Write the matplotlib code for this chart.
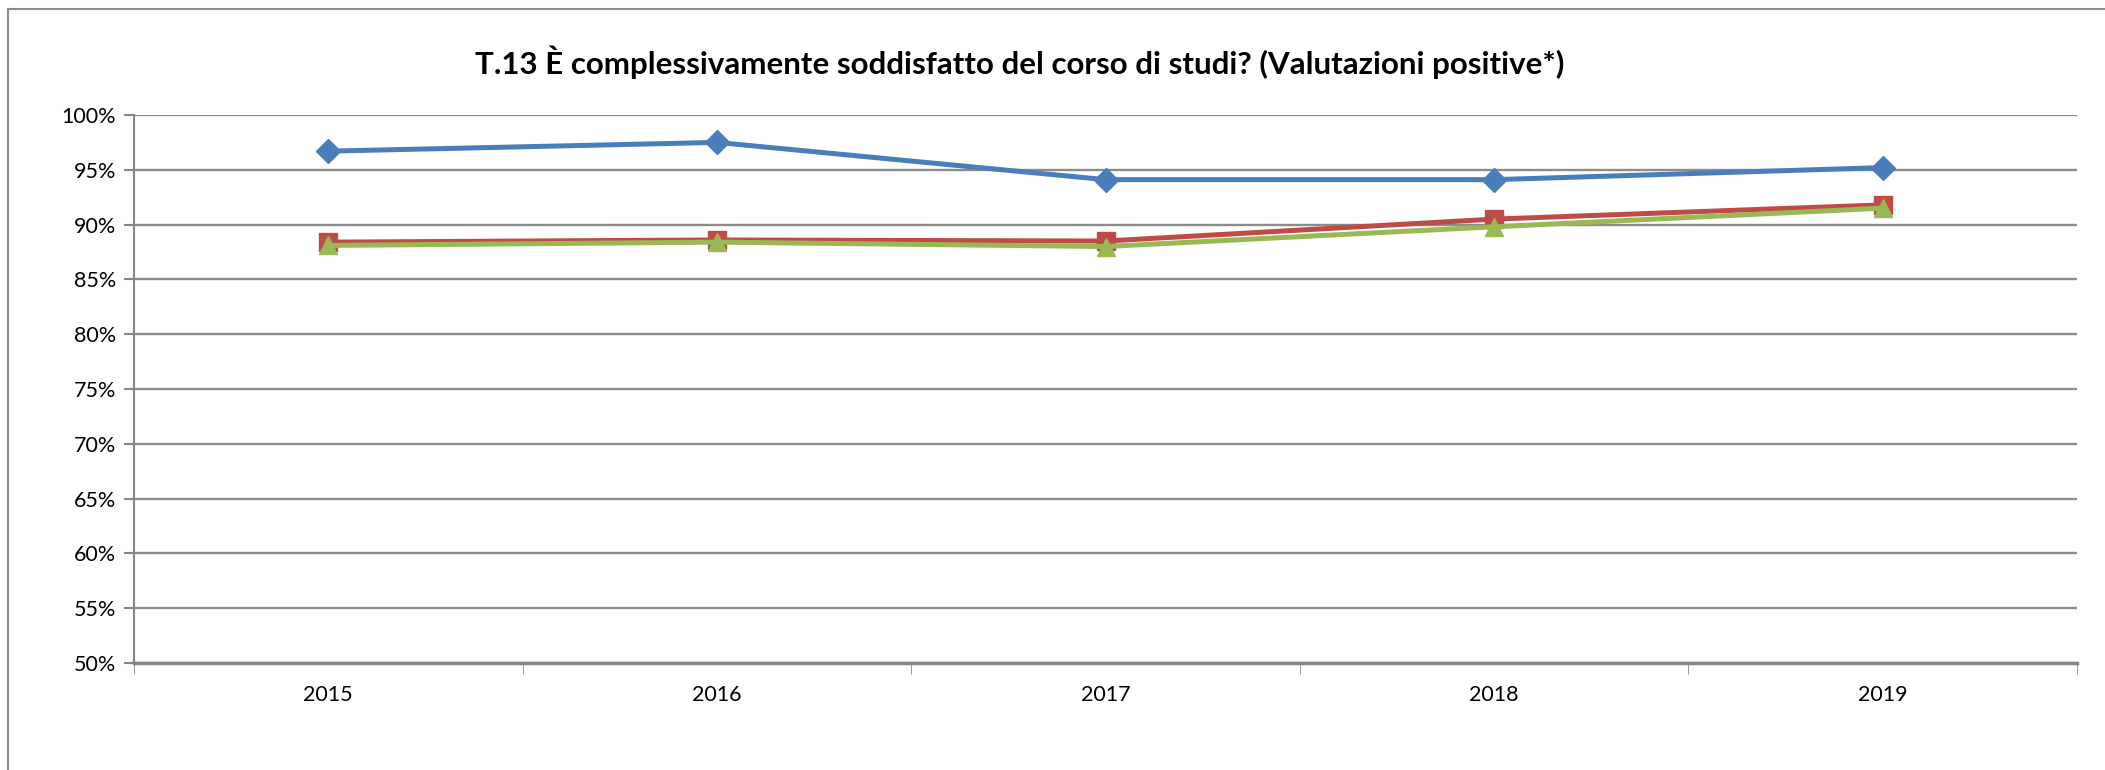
import matplotlib.pyplot as plt
from matplotlib.lines import Line2D

plt.rcParams['font.family'] = ['Lato', 'DejaVu Sans']

anni = ["2015", "2016", "2017", "2018", "2019"]
serie_blu = [96.7, 97.5, 94.1, 94.1, 95.2]
serie_rossa = [88.4, 88.6, 88.5, 90.5, 91.8]
serie_verde = [88.1, 88.4, 88.0, 89.8, 91.5]
y_ticks = [50, 55, 60, 65, 70, 75, 80, 85, 90, 95, 100]

fig = plt.figure(figsize=(21.05, 7.7), dpi=100)
ax = fig.add_axes([134/2105, 1 - 663/770, (2077-134)/2105, (663-115)/770])

x = range(len(anni))
ax.plot(x, serie_blu, color="#4A7EBB", lw=3.6, marker="D", ms=12, zorder=5)
ax.plot(x, serie_rossa, color="#BE4B48", lw=3.6, marker="s", ms=13, zorder=5)
ax.plot(x, serie_verde, color="#98B954", lw=3.6, marker="^", ms=13, zorder=6)

ax.set_xlim(-0.5, len(anni) - 0.5)
ax.set_ylim(50, 100)
ax.set_yticks(y_ticks)
ax.set_yticklabels([f"{v}%" for v in y_ticks], fontsize=15.5)
ax.set_xticks(list(x))
ax.set_xticklabels(anni, fontsize=15.5)
ax.set_xticks([i - 0.5 for i in range(len(anni) + 1)], minor=True)
ax.tick_params(axis="x", which="major", length=0, pad=16)
ax.tick_params(axis="x", which="minor", length=8, color="#868686", direction="out")
ax.tick_params(axis="y", length=7, color="#868686", width=1.5, pad=6)

ax.grid(axis="y", color="#8C8C8C", lw=1.7)
ax.set_axisbelow(True)
for side in ["top", "right"]:
    ax.spines[side].set_visible(False)
ax.spines["left"].set_color("#868686")
ax.spines["left"].set_linewidth(1.5)
ax.spines["bottom"].set_color("#868686")
ax.spines["bottom"].set_linewidth(2.5)

fig.text(1020/2105, 1 - 62/770,
         "T.13 È complessivamente soddisfatto del corso di studi? (Valutazioni positive*)",
         ha="center", va="center", fontsize=22.5, fontweight="bold")

# cornice del grafico
fig.add_artist(Line2D([8/2105, 1], [1 - 9/770, 1 - 9/770], color="#8C8C8C", lw=1.5))
fig.add_artist(Line2D([8/2105, 8/2105], [0, 1 - 9/770], color="#8C8C8C", lw=1.5))

plt.savefig("out.png", dpi=100)
